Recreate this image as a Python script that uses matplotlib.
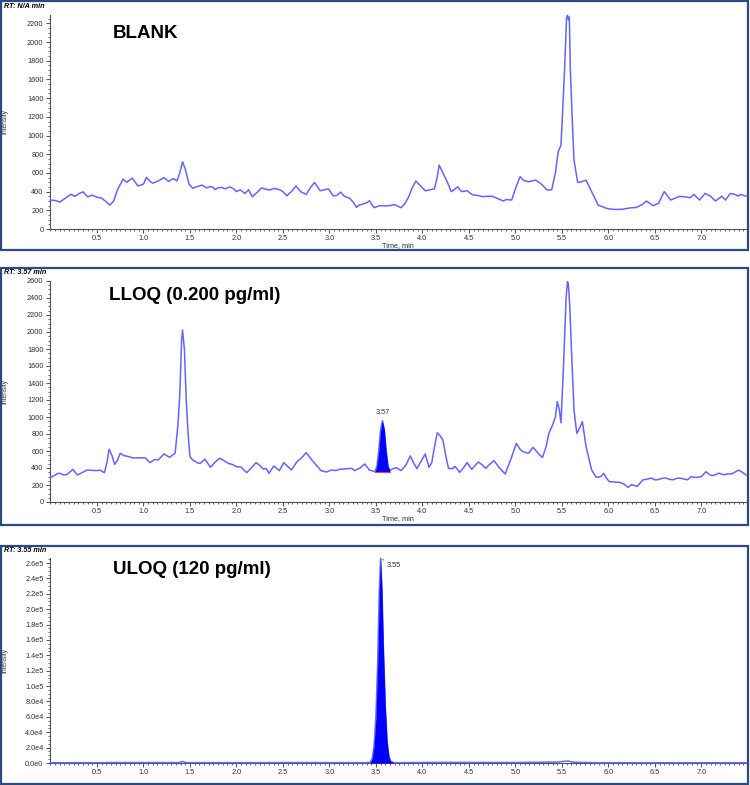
import numpy as np
import matplotlib
matplotlib.use('Agg')
import matplotlib.pyplot as plt
from matplotlib.patches import Rectangle
from matplotlib.ticker import MultipleLocator, FuncFormatter, FixedLocator

# ---------------- data ----------------
titles = ["BLANK", "LLOQ (0.200 pg/ml)", "ULOQ (120 pg/ml)"]
rt_labels = ["RT: N/A min", "RT: 3.57 min", "RT: 3.55 min"]
x_ticks = [0.5, 1.0, 1.5, 2.0, 2.5, 3.0, 3.5, 4.0, 4.5, 5.0, 5.5, 6.0, 6.5, 7.0]

blank_t = [0.00, 0.05, 0.10, 0.16, 0.22, 0.26, 0.31, 0.35, 0.40, 0.45, 0.50, 0.55, 0.60, 0.64, 0.68,
           0.72, 0.78, 0.82, 0.88, 0.94, 1.00, 1.03, 1.07, 1.10, 1.15, 1.18, 1.22, 1.27, 1.32, 1.36,
           1.39, 1.42, 1.45, 1.49, 1.53, 1.58, 1.63, 1.68, 1.72, 1.75, 1.77, 1.80, 1.84, 1.88, 1.93,
           1.97, 2.00, 2.04, 2.09, 2.13, 2.17, 2.22, 2.27, 2.32, 2.36, 2.41, 2.47, 2.50, 2.54, 2.59,
           2.64, 2.69, 2.75, 2.80, 2.84, 2.90, 2.95, 2.99, 3.04, 3.08, 3.12, 3.16, 3.22, 3.26, 3.29,
           3.32, 3.35, 3.40, 3.43, 3.48, 3.54, 3.60, 3.65, 3.70, 3.77, 3.81, 3.85, 3.89, 3.93, 3.98,
           4.03, 4.08, 4.13, 4.16, 4.18, 4.22, 4.26, 4.31, 4.34, 4.38, 4.42, 4.48, 4.54, 4.59, 4.64,
           4.70, 4.75, 4.82, 4.87, 4.90, 4.96, 5.00, 5.05, 5.09, 5.14, 5.18, 5.22, 5.28, 5.34, 5.39,
           5.43, 5.46, 5.49, 5.51, 5.53, 5.55, 5.56, 5.57, 5.58, 5.59, 5.61, 5.63, 5.67, 5.71, 5.76,
           5.82, 5.89, 5.98, 6.05, 6.14, 6.23, 6.30, 6.36, 6.41, 6.48, 6.54, 6.60, 6.67, 6.72, 6.76,
           6.82, 6.88, 6.92, 6.98, 7.04, 7.10, 7.15, 7.22, 7.26, 7.31, 7.36, 7.40, 7.42, 7.48]
blank_i = [310, 305, 288, 330, 372, 350, 380, 398, 345, 362, 340, 330, 290, 256, 300,
           420, 534, 500, 545, 460, 480, 552, 510, 490, 510, 525, 550, 510, 540, 515,
           600, 719, 640, 480, 435, 455, 470, 440, 455, 445, 420, 440, 445, 430, 450,
           430, 400, 420, 380, 420, 345, 390, 440, 425, 418, 435, 418, 400, 355, 400,
           460, 400, 370, 450, 498, 409, 420, 430, 355, 360, 395, 350, 328, 280, 232,
           255, 264, 280, 302, 228, 250, 248, 250, 262, 228, 270, 338, 440, 512, 460,
           409, 420, 430, 560, 683, 600, 520, 400, 420, 452, 400, 409, 365, 360, 347,
           350, 350, 322, 300, 315, 310, 430, 559, 520, 505, 515, 523, 480, 417, 420,
           600, 826, 897, 1300, 1734, 2260, 2286, 2240, 2270, 1734, 1200, 737, 498, 505, 523,
           400, 256, 221, 210, 210, 225, 231, 260, 299, 250, 275, 400, 310, 330, 349,
           345, 335, 370, 310, 381, 350, 300, 350, 310, 380, 370, 352, 370, 352]

lloq_t = [0.00, 0.04, 0.08, 0.11, 0.14, 0.18, 0.24, 0.29, 0.34, 0.39, 0.45, 0.50, 0.53, 0.58, 0.61,
          0.63, 0.66, 0.69, 0.72, 0.75, 0.79, 0.83, 0.89, 0.96, 1.02, 1.07, 1.12, 1.16, 1.22, 1.28,
          1.34, 1.37, 1.39, 1.41, 1.42, 1.44, 1.46, 1.48, 1.50, 1.53, 1.58, 1.61, 1.66, 1.72, 1.77,
          1.82, 1.86, 1.91, 1.96, 2.00, 2.05, 2.11, 2.16, 2.21, 2.25, 2.29, 2.32, 2.35, 2.40, 2.43,
          2.46, 2.51, 2.55, 2.59, 2.65, 2.70, 2.75, 2.82, 2.87, 2.91, 2.97, 3.02, 3.07, 3.11, 3.17,
          3.24, 3.27, 3.33, 3.38, 3.43, 3.49, 3.51, 3.53, 3.55, 3.57, 3.59, 3.61, 3.63, 3.65, 3.68,
          3.72, 3.77, 3.82, 3.87, 3.91, 3.94, 3.98, 4.03, 4.07, 4.10, 4.13, 4.16, 4.19, 4.22, 4.25,
          4.28, 4.32, 4.35, 4.40, 4.44, 4.48, 4.53, 4.60, 4.64, 4.68, 4.72, 4.77, 4.83, 4.89, 4.95,
          5.01, 5.05, 5.08, 5.14, 5.19, 5.24, 5.29, 5.33, 5.36, 5.40, 5.43, 5.45, 5.47, 5.49, 5.52,
          5.545, 5.56, 5.57, 5.585, 5.60, 5.63, 5.66, 5.69, 5.72, 5.76, 5.82, 5.87, 5.92, 5.95, 5.98,
          6.01, 6.07, 6.12, 6.17, 6.21, 6.25, 6.28, 6.31, 6.37, 6.42, 6.46, 6.50, 6.53, 6.58, 6.62,
          6.66, 6.70, 6.74, 6.77, 6.81, 6.85, 6.89, 6.93, 6.96, 7.00, 7.05, 7.09, 7.12, 7.16, 7.19,
          7.24, 7.28, 7.32, 7.36, 7.40, 7.44, 7.48]
lloq_i = [290, 310, 337, 335, 318, 325, 384, 318, 345, 376, 372, 370, 376, 345, 480,
          620, 550, 443, 490, 573, 545, 537, 518, 520, 518, 463, 500, 495, 565, 525,
          573, 900, 1250, 1900, 2024, 1800, 1200, 800, 533, 494, 460, 455, 505, 408, 470,
          514, 490, 455, 440, 416, 410, 345, 400, 463, 430, 388, 395, 337, 423, 400,
          368, 463, 420, 376, 474, 520, 580, 482, 420, 368, 353, 376, 370, 385, 390,
          396, 370, 400, 447, 375, 357, 420, 600, 850, 957, 850, 600, 420, 370, 390,
          404, 370, 430, 541, 450, 392, 470, 565, 410, 460, 650, 815, 780, 729, 550,
          396, 390, 420, 349, 400, 463, 384, 471, 440, 395, 440, 486, 400, 329, 500,
          690, 620, 592, 573, 643, 580, 522, 650, 808, 906, 1000, 1180, 1100, 933, 1670,
          2400, 2592, 2560, 2300, 1867, 1082, 808, 870, 945, 651, 376, 290, 300, 337, 280,
          239, 235, 231, 210, 172, 205, 195, 184, 259, 270, 282, 260, 262, 280, 282,
          265, 262, 280, 282, 270, 262, 298, 290, 290, 300, 357, 320, 310, 325, 340,
          320, 330, 330, 350, 376, 350, 318]
lloq_peak_range = (3.49, 3.65)

uloq_t = [0.00, 0.50, 0.63, 1.00, 1.38, 1.42, 1.46, 2.00, 2.75, 3.40, 3.44, 3.46, 3.48, 3.50, 3.52,
          3.535, 3.55, 3.565, 3.58, 3.60, 3.62, 3.64, 3.66, 3.69, 3.72, 4.16, 5.00, 5.45, 5.56, 5.63,
          5.90, 6.50, 7.48]
uloq_i = [300, 350, 600, 500, 550, 2000, 500, 420, 560, 400, 1000, 6000, 22000, 60000, 135000,
          220000, 266000, 225000, 150000, 75000, 28000, 8000, 2000, 500, 400, 800, 650, 1200, 2600, 1000,
          300, 280, 320]
uloq_peak_range = (3.43, 3.70)

y_ticks = [np.arange(0, 2201, 200), np.arange(0, 2601, 200), np.arange(0, 260001, 20000)]
y_tops = [2290, 2600, 266000]

# ---------------- layout ----------------
W, H = 750, 785
fig = plt.figure(figsize=(7.5, 7.85), dpi=100)
fig.patch.set_facecolor('white')

def fx(px):
    return px / W

def fy(py):
    return 1 - py / H

LINE = '#6464ff'
FILL = '#0000ff'
NAVY = '#2c4a80'
TFONT = 'Liberation Sans'

boxes = [(0.5, 249.5), (267.5, 524.5), (545.5, 784)]
axes_px = [(15, 229), (281, 502), (558.4, 763)]
title_pos = [(113, 33), (109, 295), (113, 570)]
rt_pos = [7, 273, 551]

def sci_fmt(v, pos):
    if v == 0:
        return "0.0e0"
    e = int(np.floor(np.log10(abs(v))))
    m = v / 10 ** e
    return f"{m:.1f}e{e}"

series = [(blank_t, blank_i), (lloq_t, lloq_i), (uloq_t, uloq_i)]

for k in range(3):
    top, bot = axes_px[k]
    left, right = 50.5, 746
    ax = fig.add_axes([fx(left), fy(bot), (right - left) / W, (bot - top) / H])
    t = np.array(series[k][0])
    y = np.array(series[k][1], dtype=float)
    ax.plot(t, y, color=LINE, lw=1.1, clip_on=False, zorder=3, solid_joinstyle='round')
    ax.set_xlim(0, 7.48)
    ax.set_ylim(0, y_tops[k])
    for s in ['top', 'right']:
        ax.spines[s].set_visible(False)
    for s in ['left', 'bottom']:
        ax.spines[s].set_color('#505050')
        ax.spines[s].set_linewidth(0.8)
    ax.xaxis.set_major_locator(FixedLocator(x_ticks))
    ax.xaxis.set_major_formatter(FuncFormatter(lambda v, p: f"{v:.1f}"))
    ax.xaxis.set_minor_locator(MultipleLocator(0.05))
    ax.yaxis.set_major_locator(FixedLocator(y_ticks[k]))
    step = y_ticks[k][1] - y_ticks[k][0]
    ax.yaxis.set_minor_locator(MultipleLocator(step / 4))
    if k == 2:
        ax.yaxis.set_major_formatter(FuncFormatter(sci_fmt))
    else:
        ax.yaxis.set_major_formatter(FuncFormatter(lambda v, p: f"{int(v)}"))
    ax.tick_params(axis='both', which='major', length=3, width=0.7, color='#505050',
                   labelsize=5.3, pad=2, labelcolor='#303030')
    ax.tick_params(axis='x', which='major', pad=1.5)
    ax.tick_params(axis='both', which='minor', length=1.5, width=0.6, color='#505050')
    for lab in ax.get_xticklabels() + ax.get_yticklabels():
        lab.set_family(TFONT)
    ax.set_ylabel('Intensity', fontsize=4.8, family=TFONT, color='#303030')
    ax.yaxis.set_label_coords(fx(8 - left) / ((right - left) / W), 0.5)
    if k < 2:
        ax.set_xlabel('Time, min', fontsize=5.3, family=TFONT, color='#303030', labelpad=0)

    if k == 1:
        a, b = lloq_peak_range
        m = (t >= a) & (t <= b)
        base = float(y[m][0])
        ax.fill_between(t[m], y[m], base, color=FILL, lw=0, zorder=4)
        ax.plot([a, b], [base, base], color='#ff3060', lw=0.8, zorder=5)
        j = np.argmax(np.where(m, y, -1))
        ax.text(t[j], y[j] + 60, f"{t[j]:.2f}", ha='center', va='bottom', fontsize=5.3,
                family=TFONT, color='#303030', zorder=6)
    if k == 2:
        a, b = uloq_peak_range
        m = (t >= a) & (t <= b)
        ax.fill_between(t[m], y[m], 0, color=FILL, lw=0, zorder=4)
        j = int(np.argmax(y))
        ax.annotate(f"{t[j]:.2f}", xy=(t[j], y[j]), xytext=(6, -7), textcoords='offset pixels',
                    ha='left', va='center', fontsize=5.3, family=TFONT, color='#303030',
                    arrowprops=dict(arrowstyle='-', color='#808080', lw=0.6, shrinkA=0, shrinkB=0),
                    annotation_clip=False)

    fig.text(fx(title_pos[k][0]), fy(title_pos[k][1]), titles[k], ha='left', va='center',
             fontsize=13.5, fontweight='bold', family=TFONT, color='black')
    fig.text(fx(4), fy(rt_pos[k]), rt_labels[k], ha='left', va='center', fontsize=5.2,
             fontweight='bold', fontstyle='italic', family=TFONT, color='black')

    b0, b1 = boxes[k]
    fig.patches.append(Rectangle((fx(1), fy(b1)), fx(747), (b1 - b0) / H, fill=False,
                                 edgecolor=NAVY, lw=1.6, transform=fig.transFigure,
                                 figure=fig, zorder=10))

fig.savefig('out.png', dpi=100, facecolor='white')
